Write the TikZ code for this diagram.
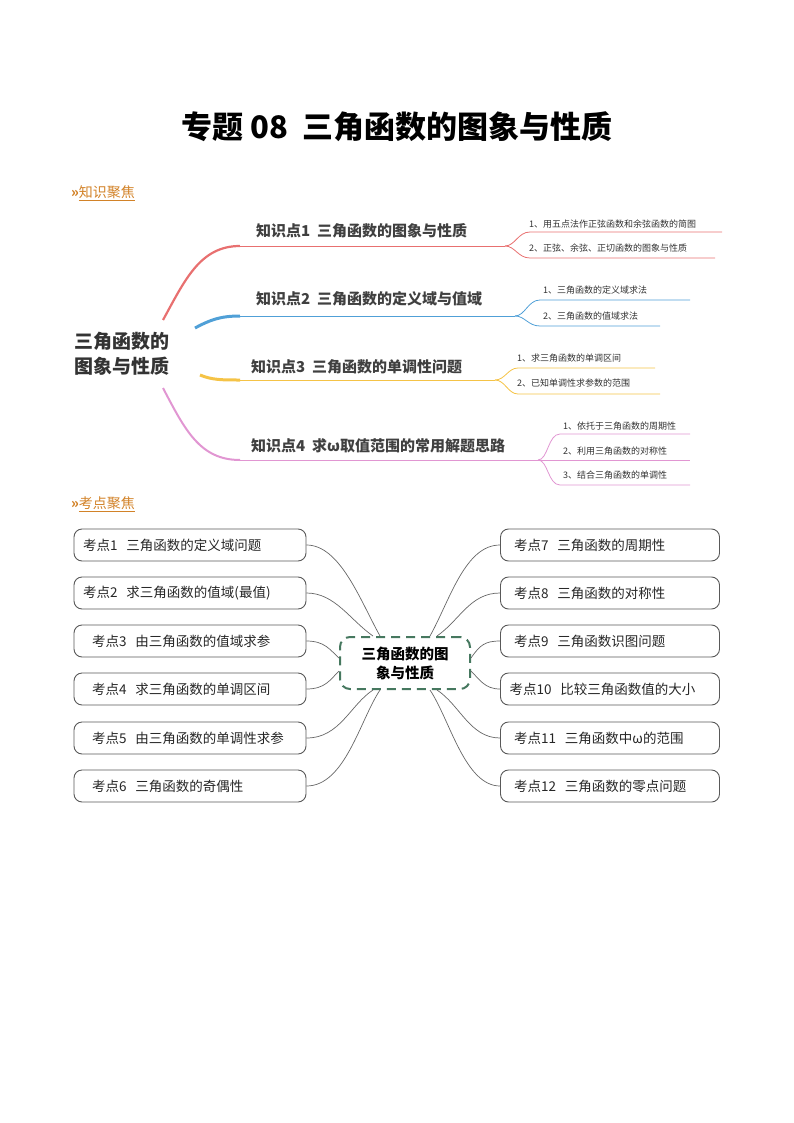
\documentclass[tikz,border=0pt]{standalone}
\usepackage{fontspec}
\setmainfont{Noto Sans CJK SC}
\begin{document}
\begin{tikzpicture}[x=1pt,y=-1pt,
 sub/.style={anchor=west,font=\fontsize{9}{10}\selectfont,text=black!80,inner sep=1pt},
 klab/.style={anchor=west,font=\bfseries\fontsize{15}{17}\selectfont,text=black!75,inner sep=1pt},
 kbox/.style={draw=black!65,line width=0.9pt,rounded corners=8pt,minimum width=232pt,text width=214pt,align=left,inner xsep=9pt,minimum height=32pt,font=\fontsize{13.5}{15}\selectfont,text=black!85},
 conn/.style={draw=black!60,line width=0.7pt},
 sec/.style={anchor=west,font=\fontsize{14}{16}\selectfont,text={rgb,255:red,210;green,130;blue,40},inner sep=1pt}]
\useasboundingbox (0,0) rectangle (794,1123);
\definecolor{cr}{RGB}{232,112,112}
\definecolor{cb}{RGB}{80,160,215}
\definecolor{cy}{RGB}{245,195,70}
\definecolor{cp}{RGB}{225,150,210}
\definecolor{cg}{RGB}{70,120,95}
\node (title) at (397,127) {\bfseries\fontsize{31}{34}\selectfont 专题 08\ \ 三角函数的图象与性质};
\node[sec] (s1) at (70,193) {\textbf{»}\underline{知识聚焦}};
\node[sec] (s2) at (70,504) {\textbf{»}\underline{考点聚焦}};
\node[align=left,font=\bfseries\fontsize{19}{25}\selectfont,text=black!80] (root) at (122,354) {三角函数的\\图象与性质};
\coordinate (r1) at (163,320); \coordinate (r2) at (195,328); \coordinate (r3) at (200,375); \coordinate (r4) at (163,388);
\coordinate (b1a) at (240,246); \coordinate (b1f) at (505,246);
\draw[cr,line width=2.2pt] (r1) .. controls (185,280) and (200,246) .. (b1a);
\draw[cr,line width=1pt] (b1a) -- (b1f);
\draw[cr,line width=0.8pt] (b1f) .. controls (515,246) and (518,232) .. (530,232) -- (722,232);
\draw[cr,line width=0.8pt] (b1f) .. controls (515,246) and (518,258) .. (530,258) -- (715,258);
\node[klab] (k1) at (255,231) {知识点1\ \ 三角函数的图象与性质};
\node[sub] at (528,224) {1、用五点法作正弦函数和余弦函数的简图};
\node[sub] at (528,248) {2、正弦、余弦、正切函数的图象与性质};
\coordinate (b2a) at (240,316); \coordinate (b2f) at (515,316);
\draw[cb,line width=3pt] (r2) .. controls (210,320) and (220,316) .. (b2a);
\draw[cb,line width=1pt] (b2a) -- (b2f);
\draw[cb,line width=0.8pt] (b2f) .. controls (525,316) and (528,300) .. (540,300) -- (690,300);
\draw[cb,line width=0.8pt] (b2f) .. controls (525,316) and (528,326) .. (540,326) -- (660,326);
\node[klab] (k2) at (255,299) {知识点2\ \ 三角函数的定义域与值域};
\node[sub] at (542,290) {1、三角函数的定义域求法};
\node[sub] at (542,316) {2、三角函数的值域求法};
\coordinate (b3a) at (240,380); \coordinate (b3f) at (495,380);
\draw[cy,line width=3pt] (r3) .. controls (212,380) and (222,380) .. (b3a);
\draw[cy,line width=1pt] (b3a) -- (b3f);
\draw[cy,line width=0.8pt] (b3f) .. controls (505,380) and (508,368) .. (518,368) -- (655,368);
\draw[cy,line width=0.8pt] (b3f) .. controls (505,380) and (508,394) .. (518,394) -- (660,394);
\node[klab] (k3) at (250,367) {知识点3\ \ 三角函数的单调性问题};
\node[sub] at (516,358) {1、求三角函数的单调区间};
\node[sub] at (516,383) {2、已知单调性求参数的范围};
\coordinate (b4a) at (240,460); \coordinate (b4f) at (538,460);
\draw[cp,line width=2pt] (r4) .. controls (185,430) and (200,460) .. (b4a);
\draw[cp,line width=1pt] (b4a) -- (b4f);
\draw[cp,line width=0.8pt] (b4f) .. controls (548,460) and (548,434) .. (560,434) -- (690,434);
\draw[cp,line width=0.8pt] (b4f) -- (690,460);
\draw[cp,line width=0.8pt] (b4f) .. controls (548,460) and (548,485) .. (560,485) -- (690,485);
\node[klab] (k4) at (250,446) {知识点4\ \ 求ω取值范围的常用解题思路};
\node[sub] at (562,426) {1、依托于三角函数的周期性};
\node[sub] at (562,451) {2、利用三角函数的对称性};
\node[sub] at (562,475) {3、结合三角函数的单调性};
\node[draw=cg,line width=2pt,dash pattern=on 9pt off 6pt,rounded corners=10pt,minimum width=130pt,minimum height=52pt,align=center,font=\bfseries\fontsize{14.5}{19}\selectfont] (c) at (405,663) {三角函数的图\\象与性质};
\foreach \i/\y/\t in {1/545/{考点1\ \ 三角函数的定义域问题},2/593/{考点2\ \ 求三角函数的值域(最值)},3/641/{\ \ 考点3\ \ 由三角函数的值域求参},4/689/{\ \ 考点4\ \ 求三角函数的单调区间},5/738/{\ \ 考点5\ \ 由三角函数的单调性求参},6/786/{\ \ 考点6\ \ 三角函数的奇偶性}}
 \node[kbox] (L\i) at (190,\y) {\t};
\foreach \i/\y/\t in {7/545/{\ 考点7\ \ 三角函数的周期性},8/593/{\ 考点8\ \ 三角函数的对称性},9/641/{\ 考点9\ \ 三角函数识图问题},10/689/{考点10\ \ 比较三角函数值的大小},11/738/{\ 考点11\ \ 三角函数中ω的范围},12/786/{\ 考点12\ \ 三角函数的零点问题}}
 \node[kbox,minimum width=217pt,text width=201pt] (R\i) at (610,\y) {\t};
\draw[conn] (L1.east) .. controls (340,545) and (360,600) .. ([xshift=-25pt]c.north);
\draw[conn] (L2.east) .. controls (335,593) and (350,620) .. ([xshift=-32pt]c.north);
\draw[conn] (L3.east) .. controls (325,641) and (330,650) .. ([yshift=5pt]c.west);
\draw[conn] (L4.east) .. controls (325,689) and (330,680) .. ([yshift=-8pt]c.west);
\draw[conn] (L5.east) .. controls (340,738) and (350,705) .. ([xshift=-32pt]c.south);
\draw[conn] (L6.east) .. controls (345,786) and (360,720) .. ([xshift=-25pt]c.south);
\draw[conn] (R7.west) .. controls (465,545) and (450,600) .. ([xshift=25pt]c.north);
\draw[conn] (R8.west) .. controls (470,593) and (460,620) .. ([xshift=32pt]c.north);
\draw[conn] (R9.west) .. controls (485,641) and (480,645) .. ([yshift=5pt]c.east);
\draw[conn] (R10.west) .. controls (485,689) and (480,680) .. ([yshift=-8pt]c.east);
\draw[conn] (R11.west) .. controls (470,738) and (460,705) .. ([xshift=32pt]c.south);
\draw[conn] (R12.west) .. controls (465,786) and (450,720) .. ([xshift=25pt]c.south);
\end{tikzpicture}
\end{document}
